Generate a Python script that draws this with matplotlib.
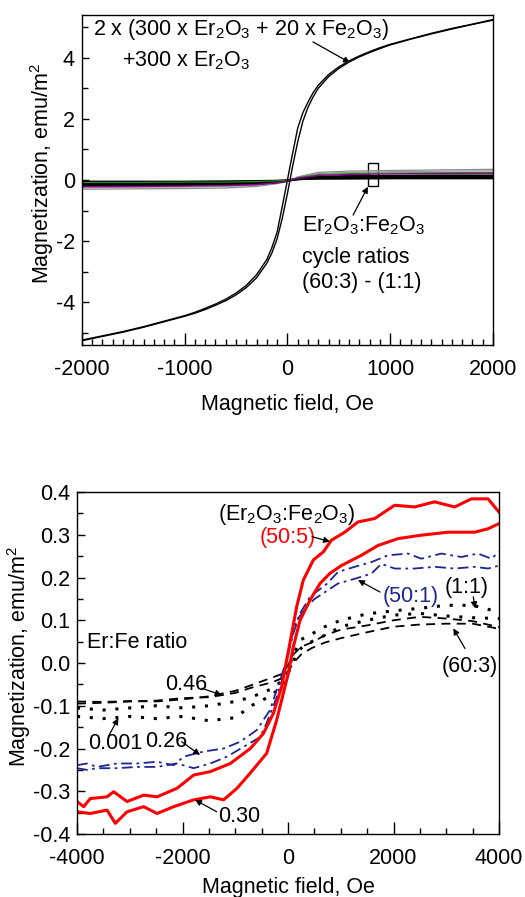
import matplotlib
matplotlib.use("Agg")
import matplotlib.pyplot as plt
from matplotlib.patches import Rectangle
from matplotlib.ticker import MultipleLocator

plt.rcParams['font.family'] = ['Liberation Sans', 'DejaVu Sans']
plt.rcParams['mathtext.fontset'] = 'custom'
plt.rcParams['mathtext.rm'] = 'Liberation Sans'
plt.rcParams['mathtext.it'] = 'Liberation Sans:italic'
plt.rcParams['mathtext.bf'] = 'Liberation Sans:bold'
plt.rcParams['axes.unicode_minus'] = False

# ---------------- Top panel data ----------------
big_field = [-2000, -1800, -1600, -1400, -1200, -1000, -900, -800, -700, -600, -500, -400, -300,
             -200, -150, -100, -50, 0, 25, 50, 100, 150, 200, 250, 300, 400, 500, 600, 700, 800,
             900, 1000, 1200, 1400, 1600, 1800, 2000]
big_up = [-5.26, -5.12, -4.98, -4.82, -4.64, -4.46, -4.36, -4.24, -4.10, -3.95, -3.76, -3.52, -3.20,
          -2.72, -2.38, -1.92, -1.25, -0.44, 0.00, 0.44, 1.25, 1.92, 2.38, 2.72, 3.00, 3.38, 3.65,
          3.86, 4.03, 4.17, 4.30, 4.42, 4.61, 4.78, 4.94, 5.09, 5.23]
big_down = [-5.24, -5.10, -4.96, -4.80, -4.62, -4.44, -4.33, -4.20, -4.06, -3.90, -3.70, -3.45, -3.10,
            -2.60, -2.20, -1.70, -0.86, 0.00, 0.44, 0.86, 1.70, 2.20, 2.55, 2.86, 3.10, 3.45, 3.70,
            3.90, 4.06, 4.20, 4.33, 4.44, 4.62, 4.80, 4.96, 5.10, 5.25]

small_field = [-2000, -1500, -1000, -600, -300, -100, 0, 40, 100, 300, 600, 1000, 1500, 2000]
small_gray1 = [-0.30, -0.29, -0.28, -0.26, -0.21, -0.12, -0.05, 0.00, 0.10, 0.25, 0.29, 0.31, 0.33, 0.35]
small_gray2 = [-0.25, -0.24, -0.23, -0.21, -0.18, -0.10, -0.04, 0.00, 0.09, 0.21, 0.25, 0.27, 0.29, 0.30]
small_purple = [-0.22, -0.21, -0.20, -0.18, -0.15, -0.09, -0.03, 0.00, 0.06, 0.15, 0.18, 0.20, 0.21, 0.22]
small_black1 = [-0.15, -0.15, -0.14, -0.13, -0.10, -0.06, -0.02, 0.00, 0.04, 0.08, 0.10, 0.11, 0.12, 0.12]
small_black2 = [-0.10, -0.10, -0.09, -0.09, -0.07, -0.04, -0.02, 0.00, 0.03, 0.06, 0.07, 0.07, 0.08, 0.08]
small_black3 = [-0.05, -0.05, -0.05, -0.04, -0.03, -0.02, -0.01, 0.00, 0.02, 0.04, 0.04, 0.05, 0.05, 0.05]
small_green = [-0.08, -0.08, -0.07, -0.07, -0.05, -0.03, -0.01, 0.00, 0.08, 0.18, 0.21, 0.23, 0.24, 0.25]
small_black4 = [-0.18, -0.18, -0.17, -0.16, -0.13, -0.08, -0.03, 0.00, 0.05, 0.11, 0.13, 0.14, 0.15, 0.15]

# ---------------- Bottom panel data ----------------
redA_x = [-4000, -3874, -3748, -3431, -3305, -3052, -2736, -2483, -2104, -1788, -1473, -1094,
          -715, -468, -278, -120, -25, 70, 165, 290, 480, 670, 821, 1075, 1327, 1643, 2022,
          2401, 2780, 3160, 3476, 3792, 4000]
redA_y = [-0.324, -0.336, -0.317, -0.313, -0.301, -0.324, -0.309, -0.313, -0.293, -0.262,
          -0.254, -0.235, -0.200, -0.165, -0.118, -0.055, 0.007, 0.069, 0.132, 0.194,
          0.241, 0.260, 0.287, 0.306, 0.330, 0.338, 0.369, 0.365, 0.377, 0.365,
          0.384, 0.384, 0.353]
redB_x = [-4000, -3748, -3431, -3274, -3052, -2736, -2483, -2167, -1788, -1473, -1220, -967,
          -720, -404, -214, -89, 6, 101, 228, 417, 607, 797, 1012, 1391, 1707, 2085, 2527,
          3033, 3539, 3792, 4000]
redB_y = [-0.348, -0.352, -0.344, -0.375, -0.348, -0.336, -0.352, -0.336, -0.320, -0.313,
          -0.320, -0.293, -0.258, -0.211, -0.133, -0.071, -0.024, 0.038, 0.100, 0.147,
          0.186, 0.210, 0.228, 0.252, 0.275, 0.291, 0.299, 0.306, 0.306, 0.314, 0.326]

blueA_x = [-4000, -3810, -3621, -3242, -2863, -2483, -2167, -1978, -1599, -1220, -905, -594,
           -341, -152, -25, 101, 228, 417, 733, 948, 1264, 1580, 1896, 2275, 2527, 2906, 3286,
           3602, 3855, 4000]
blueA_y = [-0.239, -0.235, -0.243, -0.235, -0.235, -0.231, -0.239, -0.219, -0.207, -0.200,
           -0.184, -0.157, -0.110, -0.040, 0.007, 0.069, 0.116, 0.155, 0.185, 0.213,
           0.225, 0.236, 0.252, 0.256, 0.244, 0.256, 0.248, 0.256, 0.244, 0.260]
blueB_x = [-4000, -3810, -3621, -3242, -2863, -2483, -2104, -1788, -1473, -1157, -841, -526,
           -404, -214, -89, 38, 165, 354, 505, 948, 1264, 1580, 1770, 2022, 2401, 2780, 3160,
           3539, 3792, 4000]
blueB_y = [-0.246, -0.250, -0.246, -0.246, -0.243, -0.243, -0.235, -0.246, -0.235, -0.219,
           -0.196, -0.173, -0.140, -0.080, -0.030, 0.046, 0.100, 0.132, 0.150, 0.186,
           0.197, 0.209, 0.232, 0.221, 0.221, 0.225, 0.221, 0.225, 0.221, 0.228]

bk_x = [-4000, -3500, -3000, -2500, -2000, -1500, -1000, -700, -300, -100, 0, 100, 250, 450,
        700, 1000, 1500, 2000, 2500, 3000, 3500, 4000]
dashA = [-0.090, -0.091, -0.089, -0.090, -0.085, -0.078, -0.065, -0.052, -0.034, -0.025, -0.005,
         0.020, 0.038, 0.048, 0.065, 0.078, 0.088, 0.100, 0.108, 0.104, 0.098, 0.084]
dashB = [-0.095, -0.093, -0.090, -0.088, -0.082, -0.080, -0.070, -0.058, -0.045, -0.035, -0.020,
         0.000, 0.020, 0.035, 0.048, 0.058, 0.072, 0.085, 0.090, 0.092, 0.092, 0.080]
dotA = [-0.105, -0.110, -0.105, -0.100, -0.105, -0.100, -0.090, -0.080, -0.060, -0.040, -0.015,
        0.020, 0.055, 0.068, 0.085, 0.100, 0.115, 0.122, 0.128, 0.135, 0.135, 0.119]
dotB = [-0.125, -0.130, -0.125, -0.130, -0.125, -0.135, -0.128, -0.100, -0.075, -0.050, -0.025,
        0.005, 0.035, 0.050, 0.065, 0.085, 0.100, 0.112, 0.116, 0.110, 0.106, 0.104]

RED = '#ff0000'
NAVY = '#1c2590'
FS = 15.5

fig = plt.figure(figsize=(5.25, 8.97), dpi=100)
ax1 = fig.add_axes([0.156, 0.6154, 0.783, 0.3679])
ax2 = fig.add_axes([0.1467, 0.0702, 0.8038, 0.3813])

arrow = dict(arrowstyle='-|>', color='k', lw=0.9, mutation_scale=9, shrinkA=0, shrinkB=0)

# ---------- top ----------
for ys, c, lw in [(small_gray1, '#8a8a8a', 0.9), (small_gray2, '#9a9a9a', 0.9),
                  (small_black4, 'k', 1.4), (small_black1, 'k', 1.7), (small_black2, 'k', 1.7),
                  (small_black3, 'k', 1.3), (small_green, '#1a9a1a', 0.8),
                  (small_purple, '#8b008b', 1.0)]:
    ax1.plot(small_field, ys, color=c, lw=lw)
ax1.plot(big_field, big_up, color='k', lw=1.0)
ax1.plot(big_field, big_down, color='k', lw=1.0)
ax1.add_patch(Rectangle((780, -0.19), 104, 0.74, fill=False, ec='k', lw=1.0))

ax1.set_xlim(-2000, 2000)
ax1.set_ylim(-5.4, 5.4)
ax1.xaxis.set_major_locator(MultipleLocator(1000))
ax1.xaxis.set_minor_locator(MultipleLocator(100))
ax1.yaxis.set_major_locator(MultipleLocator(2))
ax1.yaxis.set_minor_locator(MultipleLocator(1))
ax1.set_xlabel('Magnetic field, Oe', fontsize=FS)
ax1.set_ylabel('Magnetization, emu/m$^\\mathrm{2}$', fontsize=FS)
ax1.xaxis.set_label_coords(0.5, -0.15)
ax1.yaxis.set_label_coords(-0.063, 0.52)

ax1.text(-1893, 4.75, '2 x (300 x Er$_\\mathrm{2}$O$_\\mathrm{3}$ + 20 x Fe$_\\mathrm{2}$O$_\\mathrm{3}$)',
         fontsize=FS, va='baseline', ha='left')
ax1.text(-1611, 3.71, '+300 x Er$_\\mathrm{2}$O$_\\mathrm{3}$', fontsize=FS, va='baseline', ha='left')
ax1.annotate('', xy=(608, 3.84), xytext=(248, 4.52), arrowprops=arrow)
ax1.text(141, -1.69, 'Er$_\\mathrm{2}$O$_\\mathrm{3}$:Fe$_\\mathrm{2}$O$_\\mathrm{3}$',
         fontsize=FS, va='baseline', ha='left')
ax1.text(141, -2.73, 'cycle ratios', fontsize=FS, va='baseline', ha='left')
ax1.text(141, -3.55, '(60:3) - (1:1)', fontsize=FS, va='baseline', ha='left')
ax1.annotate('', xy=(783, -0.22), xytext=(639, -1.15), arrowprops=arrow)

# ---------- bottom ----------
ax2.plot(bk_x, dashA, color='k', lw=1.3, dashes=(5, 3.5))
ax2.plot(bk_x, dashB, color='k', lw=1.3, dashes=(5, 3.5))
ax2.plot(bk_x, dotA, color='k', lw=2.2, dashes=(1, 3.2))
ax2.plot(bk_x, dotB, color='k', lw=2.2, dashes=(1, 3.2))
ax2.plot(blueA_x, blueA_y, color=NAVY, lw=1.3, dashes=(6, 2.5, 1.5, 2.5))
ax2.plot(blueB_x, blueB_y, color=NAVY, lw=1.3, dashes=(6, 2.5, 1.5, 2.5))
ax2.plot(redA_x, redA_y, color=RED, lw=2.2)
ax2.plot(redB_x, redB_y, color=RED, lw=2.2)

ax2.set_xlim(-4000, 4000)
ax2.set_ylim(-0.4, 0.4)
ax2.xaxis.set_major_locator(MultipleLocator(2000))
ax2.xaxis.set_minor_locator(MultipleLocator(500))
ax2.yaxis.set_major_locator(MultipleLocator(0.1))
ax2.yaxis.set_minor_locator(MultipleLocator(0.05))
ax2.set_xlabel('Magnetic field, Oe', fontsize=FS)
ax2.set_ylabel('Magnetization, emu/m$^\\mathrm{2}$', fontsize=FS)
ax2.xaxis.set_label_coords(0.5, -0.125)
ax2.yaxis.set_label_coords(-0.104, 0.52)

ax2.text(-1327, 0.3345, '(Er$_\\mathrm{2}$O$_\\mathrm{3}$:Fe$_\\mathrm{2}$O$_\\mathrm{3}$)',
         fontsize=FS, va='baseline', ha='left')
ax2.text(-531, 0.280, '(50:5)', fontsize=FS, color=RED, va='baseline', ha='left')
ax2.annotate('', xy=(796, 0.284), xytext=(455, 0.2955), arrowprops=arrow)
ax2.text(1801, 0.143, '(50:1)', fontsize=FS, color=NAVY, va='baseline', ha='left')
ax2.annotate('', xy=(1327, 0.194), xytext=(1744, 0.166), arrowprops=arrow)
ax2.text(2976, 0.163, '(1:1)', fontsize=FS, va='baseline', ha='left')
ax2.annotate('', xy=(3545, 0.128), xytext=(3513, 0.155), arrowprops=arrow)
ax2.text(2919, -0.020, '(60:3)', fontsize=FS, va='baseline', ha='left')
ax2.annotate('', xy=(3134, 0.081), xytext=(3355, 0.034), arrowprops=arrow)
ax2.text(-3810, 0.034, 'Er:Fe ratio', fontsize=FS, va='baseline', ha='left')
ax2.text(-2332, -0.063, '0.46', fontsize=FS, va='baseline', ha='left')
ax2.annotate('', xy=(-1257, -0.075), xytext=(-1636, -0.059), arrowprops=arrow)
ax2.text(-3791, -0.200, '0.001', fontsize=FS, va='baseline', ha='left')
ax2.annotate('', xy=(-3217, -0.129), xytext=(-3406, -0.172), arrowprops=arrow)
ax2.text(-2711, -0.196, '0.26', fontsize=FS, va='baseline', ha='left')
ax2.annotate('', xy=(-1668, -0.215), xytext=(-2016, -0.184), arrowprops=arrow)
ax2.text(-1327, -0.371, '0.30', fontsize=FS, va='baseline', ha='left')
ax2.annotate('', xy=(-1763, -0.320), xytext=(-1351, -0.348), arrowprops=arrow)

for ax in (ax1, ax2):
    ax.tick_params(which='both', direction='in', top=False, right=False, labelsize=FS, width=1)
    for s in ax.spines.values():
        s.set_linewidth(1.0)
ax1.tick_params(axis='x', which='major', length=9, pad=10)
ax1.tick_params(axis='x', which='minor', length=4.5)
ax1.tick_params(axis='y', which='major', length=5, pad=5)
ax1.tick_params(axis='y', which='minor', length=4)
ax2.tick_params(axis='x', which='major', length=9, pad=10)
ax2.tick_params(axis='x', which='minor', length=4.5)
ax2.tick_params(axis='y', which='major', length=6, pad=5)
ax2.tick_params(axis='y', which='minor', length=4)

fig.savefig('out.png', dpi=100)
